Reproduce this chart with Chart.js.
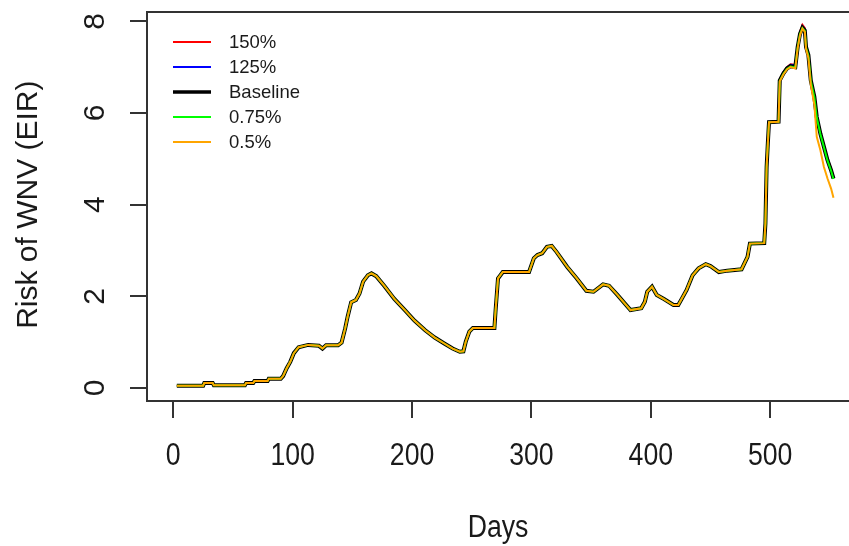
<!DOCTYPE html>
<html>
<head>
<meta charset="utf-8">
<script src="https://cdn.jsdelivr.net/npm/chart.js@4/dist/chart.umd.min.js"></script>
<style>
    html, body { margin: 0; padding: 0; background: #fff; }
    #wrap { width: 849px; height: 546px; }
</style>
</head>
<body>
<div id="wrap"><canvas id="eirchart" width="849" height="546"></canvas></div>
<script>
// days where all five scenarios run together
const sharedDays = [3, 25, 26, 33, 34, 60, 61, 67, 68, 79, 80, 90, 92, 95, 98, 101, 105, 113, 122, 125,
    128, 138, 141, 144, 146, 149, 153, 156, 159, 163, 166, 170, 177, 185, 194, 202, 211, 219, 227, 234,
    240, 243, 245, 248, 251, 269, 270, 272, 276, 298, 302, 305, 309, 313, 317, 321, 330, 338, 346, 352,
    360, 365, 372, 383, 392, 395, 397, 401, 405, 411, 419, 423, 426, 430, 435, 440, 446, 450, 457, 464,
    476, 481, 483, 495, 496, 497, 498, 499, 507];
const sharedRisk = [0.05, 0.05, 0.11, 0.11, 0.06, 0.06, 0.11, 0.11, 0.15, 0.15, 0.20, 0.20, 0.26, 0.43, 0.57, 0.76, 0.89, 0.94, 0.92, 0.86,
    0.93, 0.93, 0.99, 1.30, 1.55, 1.87, 1.92, 2.06, 2.32, 2.46, 2.50, 2.44, 2.22, 1.95, 1.70, 1.47, 1.26, 1.10, 0.97, 0.86,
    0.79, 0.80, 1.01, 1.23, 1.31, 1.31, 1.70, 2.39, 2.53, 2.53, 2.83, 2.90, 2.94, 3.08, 3.10, 2.97, 2.64, 2.39, 2.12, 2.10,
    2.26, 2.23, 2.03, 1.70, 1.74, 1.88, 2.10, 2.21, 2.03, 1.94, 1.81, 1.81, 1.95, 2.14, 2.46, 2.61, 2.70, 2.66, 2.53, 2.56,
    2.59, 2.86, 3.15, 3.16, 3.59, 4.82, 5.33, 5.80, 5.81];

// final weeks, where the scenarios split
const tailDays = [508, 511, 514, 517, 521, 523, 525, 527, 529, 530, 532, 534, 537, 539, 542, 545, 548, 551, 553];
const tail150 = [6.73, 6.89, 7.00, 7.06, 7.05, 7.48, 7.77, 7.92, 7.85, 7.48, 7.29, 6.74, 6.38, 5.94, 5.58, 5.29, 5.00, 4.78, 4.60];
const tail125 = [6.72, 6.88, 6.99, 7.05, 7.04, 7.46, 7.75, 7.89, 7.83, 7.46, 7.28, 6.73, 6.37, 5.93, 5.57, 5.28, 4.99, 4.77, 4.59];
const tailBaseline = [6.71, 6.86, 6.97, 7.02, 7.00, 7.44, 7.73, 7.86, 7.80, 7.44, 7.26, 6.71, 6.35, 5.91, 5.55, 5.26, 4.97, 4.75, 4.57];
const tail075 = [6.70, 6.85, 6.96, 7.01, 6.99, 7.43, 7.72, 7.85, 7.79, 7.43, 7.25, 6.70, 6.34, 5.90, 5.54, 5.25, 4.96, 4.74, 4.56];
const tail050 = [6.69, 6.84, 6.95, 7.00, 6.97, 7.41, 7.70, 7.84, 7.77, 7.40, 7.20, 6.62, 6.18, 5.48, 5.19, 4.82, 4.57, 4.35, 4.15];

const scenarioLabels = ['150%', '125%', 'Baseline', '0.75%', '0.5%'];
const scenarioColors = ['#ff0000', '#0000ff', '#000000', '#00ff00', '#ffa500'];
const scenarioWidths = [2, 2, 4, 2, 2];
const scenarioTails = [tail150, tail125, tailBaseline, tail075, tail050];

const xTicks = [0, 100, 200, 300, 400, 500];
const yTicks = [0, 2, 4, 6, 8];

const plainFont = "'Liberation Sans', Arial, sans-serif";
const inkColor = '#1a1a1a';
const squeeze = 0.86; // horizontal labels are drawn a bit condensed

function buildSeries(tail) {
    const pts = sharedDays.map((d, i) => ({ x: d, y: sharedRisk[i] }));
    tailDays.forEach((d, i) => pts.push({ x: d, y: tail[i] }));
    return pts;
}

function narrowText(c, text, x, y) {
    c.save();
    c.translate(x, y);
    c.scale(squeeze, 1);
    c.fillText(text, 0, 0);
    c.restore();
}

// R-style frame, tick labels, axis titles and legend
const baseGraphics = {
    id: 'baseGraphics',
    afterDraw(chart) {
        const c = chart.ctx;
        const a = chart.chartArea;
        const xs = chart.scales.x;
        const ys = chart.scales.y;
        c.save();

        // open-ended box (right side runs off the canvas)
        c.strokeStyle = '#333';
        c.lineWidth = 2;
        c.beginPath();
        c.moveTo(a.right + 2, a.top);
        c.lineTo(a.left, a.top);
        c.lineTo(a.left, a.bottom);
        c.lineTo(a.right + 2, a.bottom);
        c.stroke();

        c.fillStyle = inkColor;

        // x tick labels
        c.font = '31px ' + plainFont;
        c.textAlign = 'center';
        c.textBaseline = 'alphabetic';
        xs.ticks.forEach((t, i) => {
            narrowText(c, String(t.value), xs.getPixelForTick(i), 465);
        });

        // x title
        narrowText(c, 'Days', 498, 537);

        // y tick labels, rotated like R's default
        c.font = '30px ' + plainFont;
        ys.ticks.forEach((t, i) => {
            c.save();
            c.translate(104, ys.getPixelForTick(i));
            c.rotate(-Math.PI / 2);
            c.fillText(String(t.value), 0, 0);
            c.restore();
        });

        // y title
        c.save();
        c.translate(37, (ys.getPixelForValue(0) + ys.getPixelForValue(8)) / 2);
        c.rotate(-Math.PI / 2);
        c.fillText('Risk of WNV (EIR)', 0, 0);
        c.restore();

        // legend, top-left inside the plot
        c.font = '18.5px ' + plainFont;
        c.textAlign = 'left';
        c.textBaseline = 'middle';
        chart.data.datasets.forEach((ds, i) => {
            const y = a.top + 30 + i * 25;
            c.strokeStyle = ds.borderColor;
            c.lineWidth = ds.label === 'Baseline' ? 3.5 : 2;
            c.beginPath();
            c.moveTo(a.left + 26, y);
            c.lineTo(a.left + 64, y);
            c.stroke();
            c.fillStyle = inkColor;
            c.fillText(ds.label, a.left + 82, y + 1);
        });

        c.restore();
    }
};

document.addEventListener("DOMContentLoaded", function () {
    const ctx = document.getElementById('eirchart').getContext('2d');

    const eirchart = new Chart(ctx, {
        type: 'line',
        data: {
            datasets: scenarioLabels.map((label, i) => ({
                label: label,
                data: buildSeries(scenarioTails[i]),
                borderColor: scenarioColors[i],
                backgroundColor: scenarioColors[i],
                borderWidth: scenarioWidths[i],
                pointRadius: 0,
                tension: 0,
                fill: false,
                order: scenarioLabels.length - i,
            }))
        },
        options: {
            responsive: false,
            animation: false,
            events: [],
            layout: {
                padding: { top: 12, right: 0, left: 0, bottom: 0 }
            },
            plugins: {
                legend: { display: false },
                tooltip: { enabled: false },
            },
            scales: {
                x: {
                    type: 'linear',
                    min: -22,
                    max: 566,
                    afterFit: function (scale) { scale.height = 145; },
                    afterBuildTicks: function (scale) {
                        scale.ticks = xTicks.map(v => ({ value: v }));
                    },
                    ticks: { display: false },
                    border: { display: false },
                    grid: {
                        drawOnChartArea: false,
                        drawTicks: true,
                        tickLength: 17,
                        color: '#333',
                        lineWidth: 2,
                    },
                },
                y: {
                    type: 'linear',
                    min: -0.284,
                    max: 8.203,
                    afterFit: function (scale) { scale.width = 147; },
                    afterBuildTicks: function (scale) {
                        scale.ticks = yTicks.map(v => ({ value: v }));
                    },
                    ticks: { display: false },
                    border: { display: false },
                    grid: {
                        drawOnChartArea: false,
                        drawTicks: true,
                        tickLength: 17,
                        color: '#333',
                        lineWidth: 2,
                    },
                },
            },
        },
        plugins: [baseGraphics],
    });
});
</script>
</body>
</html>
